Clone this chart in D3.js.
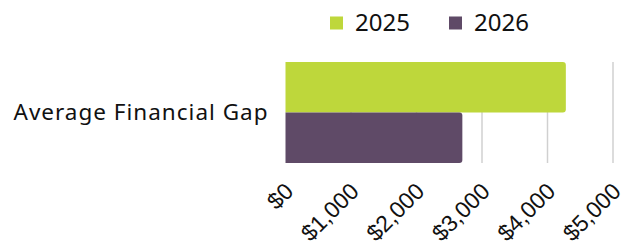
<!DOCTYPE html>
<html>
<head>
<meta charset="utf-8">
<title>Average Financial Gap</title>
<style>
  body { margin: 0; background: #fff; }
  svg { display: block; font-family: "Noto Sans", sans-serif; }
  .grid line { stroke: #d0d0d0; stroke-width: 1.5; }
  .x-axis text { font-size: 23px; fill: #111; }
</style>
</head>
<body>
<div id="viz"></div>
<script src="https://cdn.jsdelivr.net/npm/d3@7"></script>
<script>
  var categories = ["Average Financial Gap"];
  var seriesNames = ["2025", "2026"];
  var values2025 = [4280];
  var values2026 = [2700];
  var tickValues = [0, 1000, 2000, 3000, 4000, 5000];

  var colors = ["#bed73b", "#5f4a67"];

  var width = 621, height = 249;
  var margin = {top: 62, right: 8, bottom: 86, left: 285.5};

  var svg = d3.select("#viz").append("svg")
      .attr("width", width)
      .attr("height", height);

  var x = d3.scaleLinear()
      .domain([0, 5000])
      .range([margin.left, 613]);

  var y = d3.scaleBand()
      .domain(categories)
      .range([margin.top, height - margin.bottom])
      .padding(0);

  var sub = d3.scaleBand()
      .domain(seriesNames)
      .range([0, y.bandwidth()]);

  // gridlines
  svg.append("g")
      .attr("class", "grid")
    .selectAll("line")
      .data(tickValues.slice(1))
    .enter().append("line")
      .attr("x1", function(d) { return x(d); })
      .attr("x2", function(d) { return x(d); })
      .attr("y1", y.range()[0])
      .attr("y2", y.range()[1]);

  var rows = categories.map(function(c, i) {
    return [{series: "2025", value: values2025[i], cat: c},
            {series: "2026", value: values2026[i], cat: c}];
  });

  var r = 3;
  function barPath(d) {
    var x0 = x(0), x1 = x(d.value);
    var y0 = y(d.cat) + sub(d.series), y1 = y0 + sub.bandwidth();
    return "M" + x0 + "," + y0 +
      "H" + (x1 - r) + "Q" + x1 + "," + y0 + " " + x1 + "," + (y0 + r) +
      "V" + (y1 - r) + "Q" + x1 + "," + y1 + " " + (x1 - r) + "," + y1 +
      "H" + x0 + "Z";
  }

  svg.append("g").selectAll("path")
      .data(d3.merge(rows))
    .enter().append("path")
      .attr("d", barPath)
      .attr("fill", function(d) { return colors[seriesNames.indexOf(d.series)]; });

  // category label
  svg.append("g").selectAll("text")
      .data(categories)
    .enter().append("text")
      .attr("x", 268.5)
      .attr("y", function(d) { return y(d) + y.bandwidth() / 2 + 7.5; })
      .attr("text-anchor", "end")
      .style("font-size", "22.5px")
      .style("letter-spacing", "1px")
      .style("fill", "#111")
      .text(function(d) { return d; });

  // x axis
  var xAxis = svg.append("g")
      .attr("class", "x-axis")
      .attr("transform", "translate(0," + (height - margin.bottom + 8) + ")")
      .call(d3.axisBottom(x).tickValues(tickValues)
        .tickFormat(function(d) { return "$" + d3.format(",")(d); })
        .tickSize(0));
  xAxis.select(".domain").remove();
  xAxis.selectAll("text")
      .attr("font-family", null)
      .attr("font-size", null)
      .attr("text-anchor", "end")
      .attr("y", 0)
      .attr("dy", ".35em")
      .attr("transform", "translate(3,16) rotate(-45)");

  // legend
  var legend = svg.append("g").selectAll("g")
      .data(seriesNames)
    .enter().append("g")
      .attr("transform", function(d, i) { return "translate(" + (330 + i * 119) + ",16.5)"; });

  legend.append("rect")
      .attr("width", 13)
      .attr("height", 13)
      .attr("fill", function(d, i) { return colors[i]; });

  legend.append("text")
      .attr("x", 25)
      .attr("y", 14.5)
      .style("font-size", "24px")
      .style("fill", "#111")
      .text(function(d) { return d; });
</script>
</body>
</html>
